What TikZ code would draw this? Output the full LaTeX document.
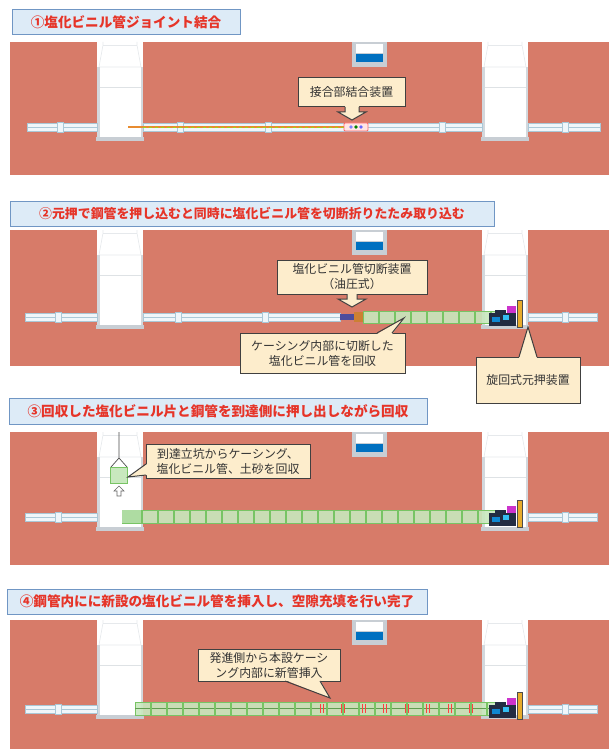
\documentclass[tikz,border=0pt]{standalone}
\usepackage{fontspec}
\newfontfamily\jpfont{Noto Sans CJK JP}
\usepackage{xcolor}
\usetikzlibrary{positioning}
\definecolor{soil}{RGB}{215,123,105}
\definecolor{titlefill}{RGB}{221,235,247}
\definecolor{titleline}{RGB}{112,150,196}
\definecolor{titlered}{RGB}{230,52,40}
\definecolor{notefill}{RGB}{253,237,204}
\definecolor{noteline}{RGB}{64,64,64}
\definecolor{shaftgrey}{RGB}{200,206,212}
\definecolor{pipefill}{RGB}{240,246,250}
\definecolor{pipeline}{RGB}{170,200,215}
\definecolor{casefill}{RGB}{200,232,190}
\definecolor{caseline}{RGB}{120,196,100}
\definecolor{winblue}{RGB}{0,112,192}
\definecolor{oilorange}{RGB}{232,140,48}
\definecolor{jackbody}{RGB}{34,44,66}
\definecolor{jackpost}{RGB}{232,172,44}

\tikzset{
  titlebox/.style={draw=titleline, fill=titlefill, line width=1, inner sep=0,
    text=titlered, font=\jpfont\bfseries\fontsize{13.6}{14}\selectfont},
  notebox/.style={draw=noteline, fill=notefill, line width=1, inner sep=0,
    align=center, text=black!80, font=\jpfont\fontsize{11.9}{15}\selectfont},
  pipe/.style={draw=pipeline, fill=pipefill, line width=0.8},
  casing/.style={draw=caseline, fill=casefill, fill opacity=0.9, line width=0.8},
  pointer/.style={draw=noteline, line width=1, line join=miter},
}

\begin{document}
\begin{tikzpicture}[x=1pt,y=-1pt]
\useasboundingbox[fill=white] (0,0) rectangle (609,749);

%ground, shafts and window for every stage
\foreach \t/\h in {42/133,230/136,432/133,620/129}{
  \fill[soil] (10,\t) rectangle (609,\t+\h);
  \foreach \sx in {97,482}{
    \fill[white] (\sx,\t) rectangle (\sx+46,\t+97);
    \draw[shaftgrey!45, line width=0.6] (\sx+6,\t) -- (\sx+6,\t+3) -- (\sx+2,\t+25) -- (\sx+44,\t+25) -- (\sx+40,\t+3) -- (\sx+40,\t);
    \draw[shaftgrey!45, line width=0.6] (\sx+6,\t+3) -- (\sx+40,\t+3);
    \draw[shaftgrey!60, line width=0.6] (\sx+2,\t+45) -- (\sx+44,\t+45);
    \fill[shaftgrey!80] (\sx,\t+25) rectangle (\sx+2.5,\t+96);
    \fill[shaftgrey!80] (\sx+43.5,\t+25) rectangle (\sx+46,\t+96);
    \fill[shaftgrey] (\sx-1,\t+95) rectangle (\sx+47,\t+99);
  }
  \fill[shaftgrey] (352,\t) rectangle (387,\t+25);
  \fill[white] (356,\t+2) rectangle (383,\t+11);
  \fill[winblue] (356,\t+12) rectangle (383,\t+20);
}

%stage 1
\node[titlebox, minimum width=228, minimum height=25] (title1) at (126,22.5) {①塩化ビニル管ジョイント結合};
\foreach \a/\b in {27/97,143/482,528/600}
  \draw[pipe] (\a,123) rectangle (\b,131);
\draw[pipeline, line width=0.4] (27,127) -- (97,127) (143,127) -- (482,127) (528,127) -- (600,127);
\foreach \x in {60,180,268,442,565}
  \draw[pipe] (\x-3,122) rectangle (\x+3,132);
\draw[oilorange, line width=1.4] (128,127) -- (344,127);
\draw[yellow!60!green, line width=0.4, dashed] (143,127) -- (344,127);
%joint device
\draw[red!60, fill=pink!40, line width=0.8, rounded corners=1] (344,123) rectangle (368,131);
\fill[blue!50] (351,127) circle (1.8);
\fill[green!50!black] (356,127) circle (1.8);
\fill[blue!60] (361,127) circle (1.8);
\node[notebox, minimum width=107, minimum height=29] (joint) at (351.5,92.5) {接合部結合装置};
\fill[notefill] (345,106) -- (345,112) -- (338,112) -- (352,120) -- (366,112) -- (359,112) -- (359,106) -- cycle;
\draw[pointer] (345,107) -- (345,112) -- (338,112) -- (352,120) -- (366,112) -- (359,112) -- (359,107);

%stage 2
\node[titlebox, minimum width=484, minimum height=25, font=\jpfont\bfseries\fontsize{12.9}{14}\selectfont] (title2) at (252,213.5) {②元押で鋼管を押し込むと同時に塩化ビニル管を切断折りたたみ取り込む};
\draw[pipe] (143,313) rectangle (340,321);
\draw[pipeline, line width=0.4] (143,317) -- (340,317);
\foreach \x in {178,265}
  \draw[pipe] (\x-3,312) rectangle (\x+3,322);
%cutter
\fill[black!55!blue!70] (340,314) rectangle (355,320);
\fill[brown!80!orange] (354,312) rectangle (366,322);
\draw[casing] (363,311) rectangle (497,323);
\foreach \x in {379,395,...,491}
  \draw[caseline, line width=1.4] (\x,311) -- (\x,323);
\node[notebox, minimum width=150, minimum height=34] (cutter) at (352,277) {塩化ビニル管切断装置\\（油圧式）};
\fill[notefill] (347,293) -- (347,299) -- (338,299) -- (352,307) -- (366,299) -- (357,299) -- (357,293) -- cycle;
\draw[pointer] (347,294) -- (347,299) -- (338,299) -- (352,307) -- (366,299) -- (357,299) -- (357,294);
\node[notebox, minimum width=165, minimum height=40] (fold) at (322.5,353) {ケーシング内部に切断した\\塩化ビニル管を回収};
\fill[notefill] (377,334) -- (404,318) -- (392,334) -- cycle;
\draw[pointer] (377,333) -- (404,318) -- (392,333);
\node[notebox, minimum width=104, minimum height=46] (jack) at (528,380) {旋回式元押装置};
\fill[notefill] (519,358) -- (528,327) -- (537,358) -- cycle;
\draw[pointer] (519,357) -- (528,327) -- (537,357);

%stage 3
\node[titlebox, minimum width=418, minimum height=26] (title3) at (218,411) {③回収した塩化ビニル片と鋼管を到達側に押し出しながら回収};
\draw[casing] (122,510) rectangle (497,523);
\fill[caseline!60] (122,510) rectangle (142,523);
\foreach \x in {142,158,...,490}
  \draw[caseline, line width=1.4] (\x,510) -- (\x,523);
%crane at arrival shaft
\draw[black!70, line width=0.7] (119,432) -- (119,458) (111,467) -- (119,458) -- (127,467);
\draw[caseline, fill=casefill, line width=0.8] (110,467) rectangle (127,483);
\draw[black!60, fill=white, line width=0.6] (119,486) -- (124,491) -- (121,491) -- (121,496) -- (117,496) -- (117,491) -- (114,491) -- cycle;
\node[notebox, minimum width=164, minimum height=34] (lift) at (228,461) {到達立坑からケーシング、\\塩化ビニル管、土砂を回収};
\fill[notefill] (147,464) -- (128,477) -- (147,475) -- cycle;
\draw[pointer] (146,464) -- (128,477) -- (146,475);

%stage 4
\node[titlebox, minimum width=420, minimum height=25] (title4) at (217,601.5) {④鋼管内にに新設の塩化ビニル管を挿入し、空隙充填を行い完了};
\draw[casing] (135,702) rectangle (498,715);
\draw[caseline!80!black, line width=0.3] (135,708.5) -- (498,708.5);
\foreach \x in {151,167,...,490}
  \draw[caseline, line width=1.1] (\x,702) -- (\x,715);
%new pipe inside the casing
\foreach \x in {320,341,362,383,405,426,448,469}{
  \draw[red!75, line width=0.8] (\x,704) -- (\x,713) (\x+3,704) -- (\x+3,713);
}
\node[notebox, minimum width=142, minimum height=32] (insert) at (269,665) {発進側から本設ケーシ\\ング内部に新管挿入};
\fill[notefill] (285,680) -- (330,698) -- (320,680) -- cycle;
\draw[pointer] (285,681) -- (330,698) -- (320,681);

%pipes beside the shafts and the jacking machine
\foreach \py in {317,517,709}{
  \draw[pipe] (25,\py-4) rectangle (97,\py+4);
  \draw[pipe] (528,\py-4) rectangle (597,\py+4);
  \draw[pipeline, line width=0.4] (25,\py) -- (97,\py) (528,\py) -- (597,\py);
  \draw[pipe] (55,\py-5) rectangle (61,\py+5);
  \draw[pipe] (562,\py-5) rectangle (568,\py+5);
  \fill[jackbody] (489,\py-4) rectangle (516,\py+9);
  \fill[jackbody] (495,\py-7) rectangle (506,\py-4);
  \fill[violet!50!magenta!80] (507,\py-11) rectangle (516,\py-4);
  \fill[cyan!70!blue] (492,\py) rectangle (500,\py+5);
  \fill[cyan!80] (503,\py-2) rectangle (509,\py+3);
  \fill[jackpost] (517,\py-17) rectangle (522,\py+10);
  \draw[black!70, line width=0.5] (517,\py-17) rectangle (522,\py+10);
}

\end{tikzpicture}
\end{document}
